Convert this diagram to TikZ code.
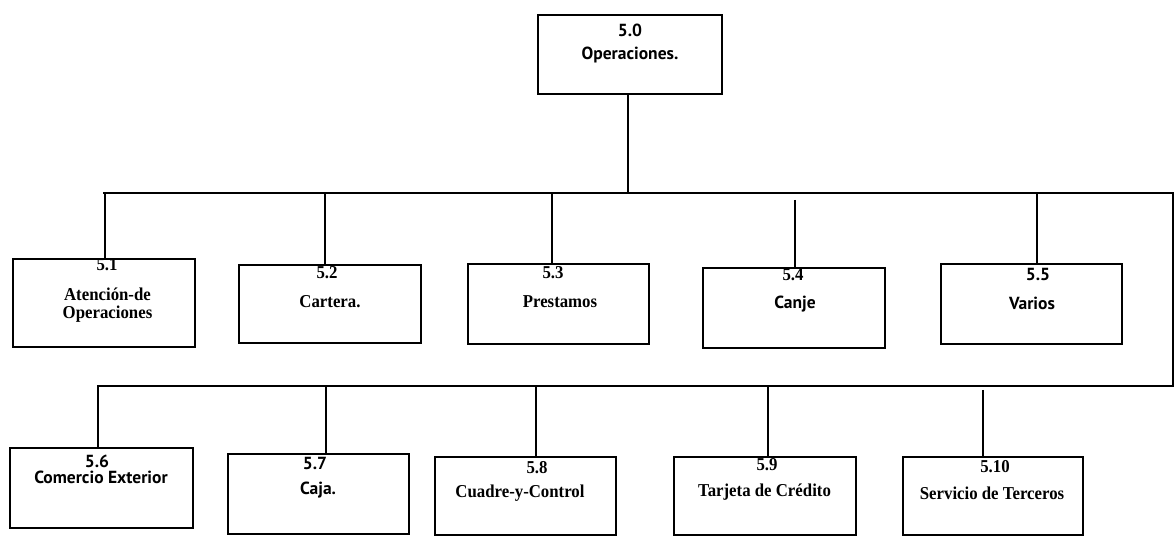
\documentclass[tikz,border=0pt]{standalone}
\usepackage{fontspec}
\setmainfont{Liberation Serif}
\newfontfamily\humsans{PT Sans}
\begin{document}
\begin{tikzpicture}[x=1pt,y=-1pt,
  box/.style={draw=black,line width=1.5pt,rectangle,inner sep=0pt},
  link/.style={draw=black,line width=1.5pt},
  txt/.style={inner sep=0pt,yscale=1.08,font=\fontsize{16.8}{18}\selectfont\bfseries},
  stxt/.style={inner sep=0pt,font=\fontsize{17.5}{18}\selectfont\humsans\bfseries}]
\useasboundingbox (0,0) rectangle (1176,537);

% top unit
\node[box,minimum width=184pt,minimum height=79pt] (b50) at (630,54.5) {};
\node[stxt] (n50) at (630,30) {5.0};
\node[stxt] (t50) at (630,55) {Operaciones.};

% first row of units
\node[box,minimum width=182pt,minimum height=88pt] (b51) at (104,303) {};
\node[box,minimum width=182pt,minimum height=78pt] (b52) at (330,304) {};
\node[box,minimum width=181pt,minimum height=80pt] (b53) at (558.5,304) {};
\node[box,minimum width=182pt,minimum height=80pt] (b54) at (794,308) {};
\node[box,minimum width=181pt,minimum height=80pt] (b55) at (1031.5,304) {};

\node[txt] (n51) at (107,265) {5.1};
\node[txt,align=center] (t51) at (107.5,305) {Atención-de\\[-1pt]Operaciones};
\node[txt] (n52) at (327,273) {5.2};
\node[txt] (t52) at (330,302) {Cartera.};
\node[txt] (n53) at (553,273) {5.3};
\node[txt] (t53) at (560,302) {Prestamos};
\node[txt] (n54) at (793,275) {5.4};
\node[stxt] (t54) at (795,304) {Canje};
\node[stxt] (n55) at (1038,274) {5.5};
\node[stxt] (t55) at (1032,303) {Varios};

% second row of units
\node[box,minimum width=183pt,minimum height=80pt] (b56) at (101.5,488) {};
\node[box,minimum width=181pt,minimum height=80pt] (b57) at (318.5,494) {};
\node[box,minimum width=181pt,minimum height=78pt] (b58) at (525.5,496) {};
\node[box,minimum width=182pt,minimum height=78pt] (b59) at (765,496) {};
\node[box,minimum width=180pt,minimum height=78pt] (b510) at (993,496) {};

\node[stxt] (n56) at (97,461) {5.6};
\node[stxt] (t56) at (101,477) {Comercio Exterior};
\node[stxt] (n57) at (315,463) {5.7};
\node[stxt] (t57) at (318,490) {Caja.};
\node[txt] (n58) at (537,468) {5.8};
\node[txt] (t58) at (520,493) {Cuadre-y-Control};
\node[txt] (n59) at (767,465) {5.9};
\node[txt] (t59) at (764.5,492) {Tarjeta de Crédito};
\node[txt] (n510) at (995,467) {5.10};
\node[txt] (t510) at (992,493) {Servicio de Terceros};

% bus lines
\coordinate (hub) at (628,193);
\coordinate (busL1) at (103,193);
\coordinate (busR1) at (1173,193);
\coordinate (busR2) at (1173,386);
\coordinate (busL2) at (97,386);
\draw[link] (b50.south -| hub) -- (hub);
\draw[link] (busL1) -- (busR1) -- (busR2) -- (busL2);

% drops to the first row
\coordinate (d51) at (105,193);
\coordinate (d52) at (325,193);
\coordinate (d53) at (552,193);
\coordinate (d54) at (795,200);
\coordinate (d55) at (1037,193);
\draw[link] (d51) -- (d51 |- b51.north);
\draw[link] (d52) -- (d52 |- b52.north);
\draw[link] (d53) -- (d53 |- b53.north);
\draw[link] (d54) -- (d54 |- b54.north);
\draw[link] (d55) -- (d55 |- b55.north);

% drops to the second row
\coordinate (d56) at (98,386);
\coordinate (d57) at (326,386);
\coordinate (d58) at (536,386);
\coordinate (d59) at (768,386);
\coordinate (d510) at (983,390);
\draw[link] (d56) -- (d56 |- b56.north);
\draw[link] (d57) -- (d57 |- b57.north);
\draw[link] (d58) -- (d58 |- b58.north);
\draw[link] (d59) -- (d59 |- b59.north);
\draw[link,line width=2.2pt] (d510) -- (d510 |- b510.north);
\end{tikzpicture}
\end{document}
